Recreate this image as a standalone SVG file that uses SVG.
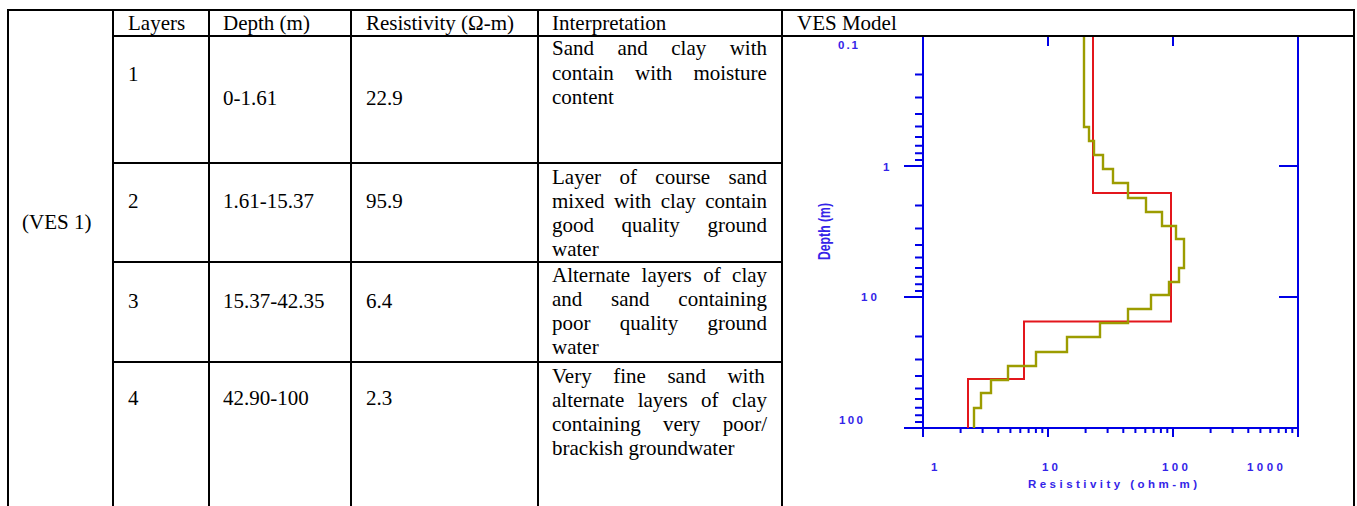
<svg xmlns="http://www.w3.org/2000/svg" width="1357" height="506" viewBox="0 0 1357 506">
  <defs>
    <style>
      .cell { font-family: "Liberation Serif", "Times New Roman", serif; font-size: 21px; fill: #000; }
      .grid { stroke: #000; stroke-width: 2; fill: none; }
      .axis { stroke: #0000e6; stroke-width: 2; fill: none; }
      .tick { stroke: #0000e6; stroke-width: 2; fill: none; }
      .lbl { font-family: "Liberation Sans", Arial, sans-serif; font-size: 11.5px; font-weight: bold; fill: #3424e8; }
      .model { stroke: #e3161c; stroke-width: 2; fill: none; }
      .field { stroke: #9c9c00; stroke-width: 2.4; fill: none; }
    </style>
  </defs>
  <rect width="1357" height="506" fill="#fff"/>

  <!-- table rules -->
  <g id="table-grid" class="grid">
    <line x1="7" y1="10" x2="1355" y2="10"/>
    <line x1="113" y1="36" x2="1355" y2="36"/>
    <line x1="113" y1="163" x2="782" y2="163"/>
    <line x1="113" y1="262" x2="782" y2="262"/>
    <line x1="113" y1="362" x2="782" y2="362"/>
    <line x1="8" y1="9" x2="8" y2="506"/>
    <line x1="113" y1="9" x2="113" y2="506"/>
    <line x1="209" y1="9" x2="209" y2="506"/>
    <line x1="351" y1="9" x2="351" y2="506"/>
    <line x1="538" y1="9" x2="538" y2="506"/>
    <line x1="782" y1="9" x2="782" y2="506"/>
    <line x1="1354" y1="9" x2="1354" y2="506"/>
  </g>

  <!-- header row -->
  <g id="header" class="cell">
    <text x="128" y="30">Layers</text>
    <text x="223" y="30">Depth (m)</text>
    <text x="366" y="30">Resistivity (Ω-m)</text>
    <text x="552" y="30">Interpretation</text>
    <text x="797" y="30">VES Model</text>
  </g>

  <g id="station" class="cell">
    <text x="22" y="229">(VES 1)</text>
  </g>

  <g id="layer-1" class="cell">
    <text x="128" y="81">1</text>
    <text x="223" y="105">0-1.61</text>
    <text x="366" y="105">22.9</text>
    <text x="552" y="55" word-spacing="18.2">Sand and clay with</text>
    <text x="552" y="79.5" word-spacing="15.9">contain with moisture</text>
    <text x="552" y="104">content</text>
  </g>

  <g id="layer-2" class="cell">
    <text x="128" y="208">2</text>
    <text x="223" y="208">1.61-15.37</text>
    <text x="366" y="208">95.9</text>
    <text x="552" y="184" word-spacing="13.2">Layer of course sand</text>
    <text x="552" y="208" word-spacing="4.2">mixed with clay contain</text>
    <text x="552" y="232" word-spacing="22.3">good quality ground</text>
    <text x="552" y="256">water</text>
  </g>

  <g id="layer-3" class="cell">
    <text x="128" y="308">3</text>
    <text x="223" y="308">15.37-42.35</text>
    <text x="366" y="308">6.4</text>
    <text x="552" y="282" word-spacing="6.2">Alternate layers of clay</text>
    <text x="552" y="306" word-spacing="23.5">and sand containing</text>
    <text x="552" y="330" word-spacing="24.1">poor quality ground</text>
    <text x="552" y="354">water</text>
  </g>

  <g id="layer-4" class="cell">
    <text x="128" y="405">4</text>
    <text x="223" y="405">42.90-100</text>
    <text x="366" y="405">2.3</text>
    <text x="552" y="383" word-spacing="16.3">Very fine sand with</text>
    <text x="552" y="407" word-spacing="8.1">alternate layers of clay</text>
    <text x="552" y="431" word-spacing="17.1">containing very poor/</text>
    <text x="552" y="455">brackish groundwater</text>
  </g>

  <!-- VES sounding plot: log depth 0.1-100 m (y), log resistivity 1-1000 ohm-m (x) -->
  <g id="ves-plot">
    <g id="axes">
      <line class="axis" x1="923" y1="37" x2="923" y2="437" stroke-width="2.6"/>
      <line class="axis" x1="1298" y1="37" x2="1298" y2="437"/>
      <line class="axis" x1="904" y1="428" x2="1299" y2="428"/>
      <!-- depth axis ticks -->
      <path class="tick" d="M915,74.4H923M915,97.5H923M915,113.9H923M915,126.6H923M915,136.9H923M915,145.7H923M915,153.3H923M915,160H923
        M904,166H923
        M915,205.4H923M915,228.5H923M915,244.9H923M915,257.6H923M915,267.9H923M915,276.7H923M915,284.3H923M915,291H923
        M904,297H923
        M915,336.4H923M915,359.5H923M915,375.9H923M915,388.6H923M915,398.9H923M915,407.7H923M915,415.3H923M915,422H923"/>
      <!-- resistivity axis ticks -->
      <path class="tick" d="M960.6,428V433M982.6,428V433M998.3,428V433M1010.4,428V433M1020.3,428V433M1028.6,428V433M1035.9,428V433M1042.3,428V433
        M1048,428V437
        M1085.6,428V433M1107.6,428V433M1123.3,428V433M1135.4,428V433M1145.3,428V433M1153.6,428V433M1160.9,428V433M1167.3,428V433
        M1173,428V437
        M1210.6,428V433M1232.6,428V433M1248.3,428V433M1260.4,428V433M1270.3,428V433M1278.6,428V433M1285.9,428V433M1292.3,428V433"/>
      <!-- opposite-side decade ticks -->
      <path class="tick" d="M1048,37V46M1173,37V46M1279,166H1298M1279,297H1298"/>
    </g>

    <g id="axis-labels" class="lbl">
      <text x="838" y="49" textLength="20" lengthAdjust="spacing">0.1</text>
      <text x="883" y="171">1</text>
      <text x="861" y="301" textLength="16" lengthAdjust="spacing">10</text>
      <text x="839" y="424" textLength="24" lengthAdjust="spacing">100</text>
      <text x="931" y="471">1</text>
      <text x="1042" y="471" textLength="16" lengthAdjust="spacing">10</text>
      <text x="1162" y="471" textLength="26" lengthAdjust="spacing">100</text>
      <text x="1247" y="471" textLength="36" lengthAdjust="spacing">1000</text>
      <text x="1028" y="488" textLength="169" lengthAdjust="spacing">Resistivity (ohm-m)</text>
      <text transform="translate(830,260) rotate(-90)" font-size="16" textLength="57" lengthAdjust="spacingAndGlyphs">Depth (m)</text>
    </g>

    <!-- layered model -->
    <path id="model-curve" class="model" d="M1093,37V193H1171V321.5H1024V379H968V428"/>
    <!-- field sounding curve -->
    <path id="field-curve" class="field" d="M1084,37V127H1089V141H1094V155H1103V169H1113V183H1128V198H1146V212H1162V226H1176V239H1184V268H1179V282H1169V295H1151V309H1128V323H1100V337H1067V352H1036V366H1008V380H991V393H981V408H974V428"/>
  </g>
</svg>
